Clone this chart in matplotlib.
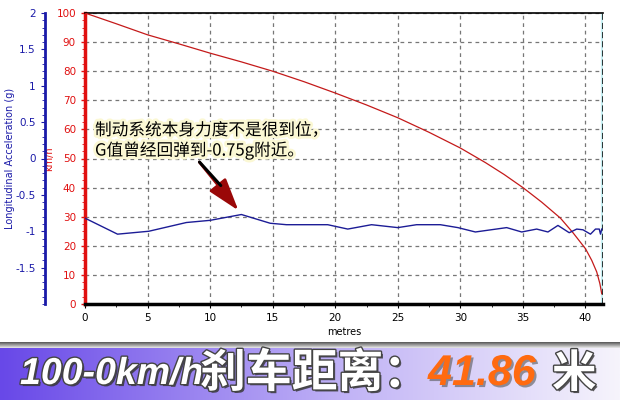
import numpy as np
import matplotlib
matplotlib.use("Agg")
import matplotlib.pyplot as plt
import matplotlib.patheffects as pe
from matplotlib.ticker import MultipleLocator, AutoMinorLocator

plt.rcParams['font.family'] = ['DejaVu Sans', 'Noto Sans CJK SC']

# speed curve (km/h) against distance (metres)
speed_x = [0, 2.5, 5, 7.5, 10, 12.5, 15, 17.5, 20, 22.5, 25, 27.5, 30, 32, 33.5,
           35, 36.5, 38, 39, 40, 40.5, 40.9, 41.15, 41.3]
speed_v = [100, 96.3, 92.5, 89.4, 86.2, 83.2, 80, 76.4, 72.5, 68.4, 64, 59, 53.6,
           48.6, 44.5, 40, 35, 29.5, 24.5, 19, 15, 11, 7, 3.5]

# longitudinal acceleration (g) against distance (metres)
acc_x = [0, 2.6, 5.1, 8.1, 10, 12.5, 14.8, 16.1, 19.4, 21, 22.9, 25, 26.5, 28.4,
         29.8, 31.2, 33.7, 34.9, 36.1, 37, 37.8, 38.7, 39.3, 39.8, 40.4, 40.8,
         41.1, 41.2, 41.3]
acc_g = [-0.82, -1.04, -1.0, -0.88, -0.85, -0.77, -0.89, -0.91, -0.91, -0.97,
         -0.91, -0.95, -0.91, -0.91, -0.95, -1.01, -0.95, -1.01, -0.97, -1.01,
         -0.92, -1.02, -0.97, -0.98, -1.04, -0.97, -0.97, -1.04, -0.97]

x_end = 41.4
kmh_ticks = list(range(0, 101, 10))
g_ticks = [-1.5, -1, -0.5, 0, 0.5, 1, 1.5, 2]
g_labels = ['-1.5', '-1', '-0.5', '0', '0.5', '1', '1.5', '2']

note = "制动系统本身力度不是很到位，\nG值曾经回弹到-0.75g附近。"

fig = plt.figure(figsize=(6.2, 4.0), dpi=100)
ax = fig.add_axes([85/620, 96/400, 518/620, 291/400])

# grid
ax.set_xlim(0, x_end)
ax.set_ylim(0, 100)
ax.xaxis.set_major_locator(MultipleLocator(5))
ax.xaxis.set_minor_locator(AutoMinorLocator(2))
ax.set_yticks(kmh_ticks)
ax.yaxis.set_minor_locator(AutoMinorLocator(4))
ax.grid(True, which='major', ls=(0, (3, 3)), color='#777777', lw=0.9)

ax.plot(speed_x, speed_v, color='#c41a1a', lw=0.9, zorder=3)

ax.spines['left'].set_color('#e01010')
ax.spines['left'].set_linewidth(2.5)
ax.spines['bottom'].set_linewidth(2.5)
ax.spines['top'].set_linewidth(1.2)
ax.spines['right'].set_visible(False)
ax.axvline(x_end, color='#c8f0f4', lw=3, zorder=2)
ax.axvline(x_end, color='black', lw=1.1, ls=(0, (4, 2)), zorder=4)

ax.tick_params(axis='y', colors='#e01010', labelsize=7.5, length=3, width=1)
ax.tick_params(axis='y', which='minor', colors='#e01010', length=2)
ax.tick_params(axis='x', colors='black', labelsize=7.5, length=3)
ax.tick_params(axis='x', which='minor', length=2)
ax.set_xlabel('metres', fontsize=7, labelpad=3)
ax.set_ylabel('km/h', color='#e01010', fontsize=7)
ax.yaxis.set_label_coords(-31/518, 0.5)

# acceleration axis on the far left
ax2 = ax.twinx()
ax2.set_ylim(-2, 2)
ax2.set_yticks(g_ticks)
ax2.set_yticklabels(g_labels)
ax2.yaxis.set_minor_locator(AutoMinorLocator(5))
ax2.yaxis.set_ticks_position('left')
ax2.yaxis.set_label_position('left')
ax2.spines['left'].set_position(('outward', 29))
ax2.spines['left'].set_color('#1a1aa8')
ax2.spines['left'].set_linewidth(2)
for s in ['right', 'top', 'bottom']:
    ax2.spines[s].set_visible(False)
ax2.tick_params(axis='y', colors='#1a1aa8', labelsize=7.5, length=3)
ax2.tick_params(axis='y', which='minor', colors='#1a1aa8', length=2)
ax2.set_ylabel('Longitudinal Acceleration (g)', color='#1a1aa8', fontsize=7)
ax2.yaxis.set_label_coords(-70/518, 0.5)
ax2.plot(acc_x, acc_g, color='#1c1c96', lw=1, zorder=3)

# note with arrow
ax.text(0.8, 62.5, note, fontsize=12, style='italic', va='top', ha='left',
        linespacing=1.15, family=['Noto Sans CJK SC', 'DejaVu Sans'], zorder=6,
        path_effects=[pe.withStroke(linewidth=4, foreground='#fbf8d4')])
ax.annotate('', xy=(12.4, 31.4), xytext=(9.0, 49.5), zorder=6,
            arrowprops=dict(arrowstyle='-|>,head_length=1.0,head_width=0.32',
                            mutation_scale=20, color='#9a0808', lw=2))
ax.annotate('', xy=(11.0, 40.0), xytext=(9.0, 49.5), zorder=7,
            arrowprops=dict(arrowstyle='-', color='black', lw=2.2))

# bottom banner
shadow = fig.add_axes([0, 51/400, 1, 7/400])
sh = np.linspace(0, 1, 20)[:, None]
shadow.imshow(np.dstack([0.25 + 0.75 * sh] * 3) * np.ones((1, 10, 1)),
              aspect='auto', extent=[0, 1, 0, 1])
shadow.axis('off')

banner = fig.add_axes([0, 0, 1, 52/400])
left_c = np.array([104, 72, 232]) / 255
mid_c = np.array([192, 178, 246]) / 255
right_c = np.array([246, 244, 252]) / 255
t = np.linspace(0, 1, 300)
w = np.clip(t / 0.55, 0, 1)[:, None]
w2 = np.clip((t - 0.55) / 0.45, 0, 1)[:, None]
row = left_c * (1 - w) + mid_c * w
row = row * (1 - w2) + right_c * w2
banner.imshow(row[None, :, :] * np.ones((10, 1, 1)), aspect='auto',
              extent=[0, 1, 0, 1])
banner.set_xlim(0, 1)
banner.set_ylim(0, 1)
banner.axis('off')

outline = [pe.withSimplePatchShadow(offset=(1.5, -1.5), shadow_rgbFace='#333333', alpha=0.8),
           pe.withStroke(linewidth=2, foreground='#444444')]
banner.text(20/620, 0.5, '100-0km/h', color='white', fontsize=27, weight='bold',
            style='italic', family='Liberation Sans', va='center', ha='left',
            path_effects=outline)
banner.text(200/620, 0.5, '刹车距离：', color='white', fontsize=33, weight='heavy',
            family='Noto Sans CJK SC', va='center', ha='left', path_effects=outline)
banner.text(428/620, 0.5, '41.86', color='#ff6a10', fontsize=31, weight='bold',
            style='italic', family='Liberation Sans', va='center', ha='left',
            path_effects=[pe.withSimplePatchShadow(offset=(1.5, -1.5), shadow_rgbFace='#555555', alpha=0.6)])
banner.text(552/620, 0.5, '米', color='white', fontsize=32, weight='heavy',
            family='Noto Sans CJK SC', va='center', ha='left', path_effects=outline)

fig.savefig('out.png', dpi=100)
